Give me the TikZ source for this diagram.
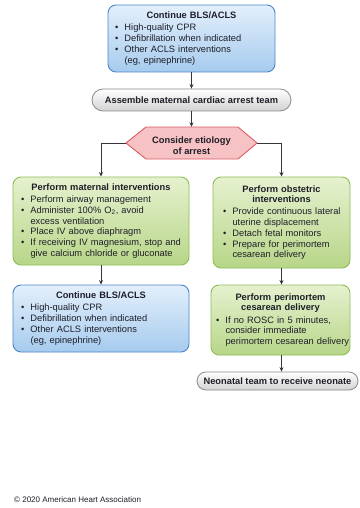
\documentclass[tikz,border=0pt]{standalone}
\usepackage{fontspec}
\setmainfont{Liberation Sans}
\usetikzlibrary{arrows.meta,calc}

\definecolor{bluefillA}{HTML}{E3EFFB}
\definecolor{bluefillB}{HTML}{A6CBEE}
\definecolor{blueline}{HTML}{4A86C8}
\definecolor{greenA}{HTML}{E6F1CF}
\definecolor{greenB}{HTML}{B7D688}
\definecolor{greenline}{HTML}{8DBE55}
\definecolor{pinkfill}{HTML}{F6C2C4}
\definecolor{pinkline}{HTML}{DD5C66}
\definecolor{greyB}{HTML}{D2D2D2}
\definecolor{greyline}{HTML}{8A8A8A}
\definecolor{ink}{HTML}{1E1E28}

% bullet list helpers
\newlength\bulind \setlength\bulind{9.5pt}
\newcommand\bli[1]{\par\noindent\makebox[\bulind][l]{\textbullet}\mbox{#1}}
\newcommand\blc[1]{\par\noindent\hspace*{\bulind}\mbox{#1}}
\newcommand\boxhead[1]{{\centering\bfseries #1\par}\vspace{1.5pt}}

\tikzset{
  flowbox/.style={rounded corners=8pt, line width=0.9pt, text=ink,
    inner xsep=0pt, inner ysep=0pt,
    font=\fontsize{9.3}{10.7}\selectfont},
  bluebox/.style={flowbox, draw=blueline, top color=bluefillA, bottom color=bluefillB},
  greenbox/.style={flowbox, draw=greenline, top color=greenA, bottom color=greenB},
  pill/.style={rounded corners=9pt, line width=0.8pt, draw=greyline, text=ink,
    top color=white, bottom color=greyB, inner sep=0pt,
    font=\fontsize{9.3}{10.7}\selectfont\bfseries},
  hexlabel/.style={inner sep=0pt, text=ink, align=center,
    font=\fontsize{9.3}{11.5}\selectfont\bfseries},
  flow/.style={draw=ink!90, line width=0.8pt, -{Stealth[length=4.5pt,width=4pt]}},
}

\begin{document}
\begin{tikzpicture}[x=1pt, y=-1pt]
\fill[white] (0,0) rectangle (359,508);
\useasboundingbox (0,0) rectangle (359,508);

% opening step
\node[bluebox, text width=167pt, minimum width=167pt, minimum height=67pt] (top) at (191.5,38.5)
  {\boxhead{Continue BLS/ACLS}\leftskip=7pt
   \bli{High-quality CPR}
   \bli{Defibrillation when indicated}
   \bli{Other ACLS interventions}
   \blc{(eg, epinephrine)}\par};

\node[pill, minimum width=199pt, minimum height=22pt, rounded corners=11pt] (team) at (191.5,100)
  {Assemble maternal cardiac arrest team};

% decision hexagon
\fill[pinkfill, draw=pinkline, line width=0.9pt]
  (126,143) -- (146,127) -- (238,127) -- (257,143) -- (238,159) -- (146,159) -- cycle;
\node[inner sep=0pt, minimum width=131pt, minimum height=32pt] (etio) at (191.5,143) {};
\node[hexlabel] (etiotext) at (191.5,145.5) {Consider etiology\\of arrest};

% maternal branch
\node[greenbox, text width=176pt, minimum width=176pt, minimum height=88pt] (mat) at (101,221)
  {\boxhead{Perform maternal interventions}\leftskip=8pt
   \bli{Perform airway management}
   \bli{Administer 100\% O\textsubscript{2}, avoid}
   \blc{excess ventilation}
   \bli{Place IV above diaphragm}
   \bli{If receiving IV magnesium, stop and}
   \blc{give calcium chloride or gluconate}\par};

\node[bluebox, text width=176pt, minimum width=176pt, minimum height=67pt] (bls) at (101,318.5)
  {\boxhead{Continue BLS/ACLS}\leftskip=8pt
   \bli{High-quality CPR}
   \bli{Defibrillation when indicated}
   \bli{Other ACLS interventions}
   \blc{(eg, epinephrine)}\par};

% obstetric branch
\node[greenbox, text width=137pt, minimum width=137pt, minimum height=91pt] (obs) at (281.5,222.5)
  {\boxhead{Perform obstetric\\interventions}\leftskip=10pt
   \bli{Provide continuous lateral}
   \blc{uterine displacement}
   \bli{Detach fetal monitors}
   \bli{Prepare for perimortem}
   \blc{cesarean delivery}\par};

\node[greenbox, text width=139pt, minimum width=139pt, minimum height=70pt] (cs) at (280.5,320)
  {\boxhead{Perform perimortem\\cesarean delivery}\leftskip=5pt
   \bli{If no ROSC in 5 minutes,}
   \blc{consider immediate}
   \blc{perimortem cesarean delivery}\par};

\node[pill, minimum width=161pt, minimum height=18pt] (neo) at (277.5,381)
  {Neonatal team to receive neonate};

\node[anchor=west, inner sep=0pt, text=ink, font=\fontsize{8}{9}\selectfont] (copy) at (14,500)
  {© 2020 American Heart Association};

% connectors
\draw[flow] (top.south) -- (team.north);
\draw[flow] (team.south) -- (etio.north);
\draw[flow] (etio.west) -| (mat.north);
\draw[flow] (etio.east) -| (obs.north);
\draw[flow] (mat.south) -- (bls.north);
\draw[flow] (obs.south) -- (obs.south |- cs.north);
\draw[flow] (obs.south |- cs.south) -- (obs.south |- neo.north);
\end{tikzpicture}
\end{document}
